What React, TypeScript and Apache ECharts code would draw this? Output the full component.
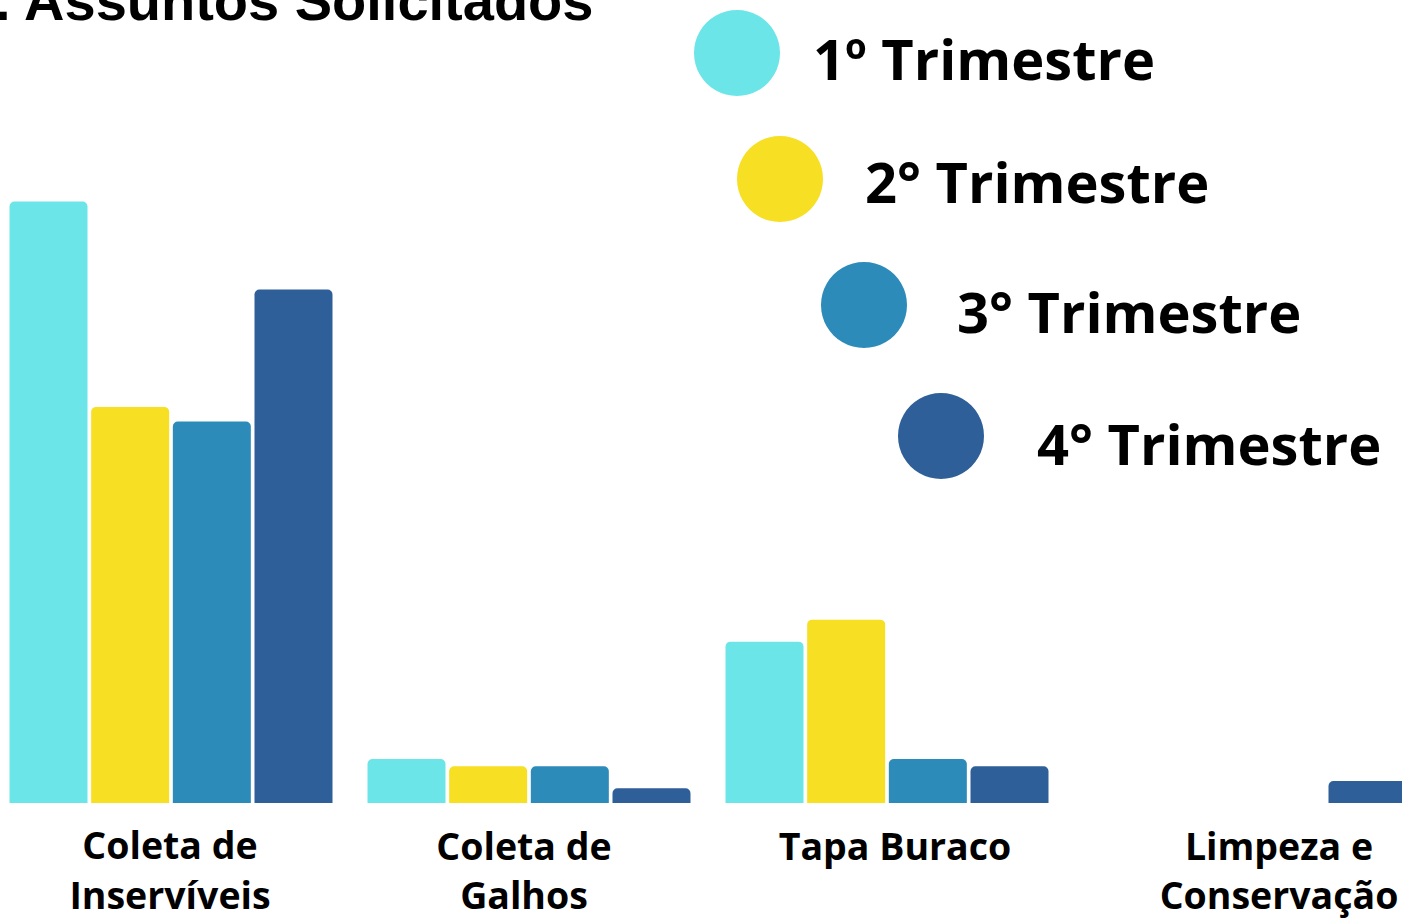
import React, { useEffect, useRef } from "react";
import * as echarts from "echarts";

const categories = ["Coleta de\nInservíveis", "Coleta de\nGalhos", "Tapa Buraco", "Limpeza e\nConservação"];
const seriesNames = ["1º Trimestre", "2° Trimestre", "3° Trimestre", "4° Trimestre"];
const q1 = [82, 6, 22, 0];
const q2 = [54, 5, 25, 0];
const q3 = [52, 5, 6, 0];
const q4 = [70, 2, 5, 3];
const colors = ["#6CE5E8", "#F7DF23", "#2D8BBA", "#2F5F98"];

// chart div is shifted 8px left of the page, so positions are page x + 8
const OFFSET = 8;
const legendPos = [
  { left: 694, top: 10, pad: 28, padTop: 10 },
  { left: 737, top: 136, pad: 37, padTop: 4 },
  { left: 821, top: 262, pad: 45, padTop: 12 },
  { left: 898, top: 393, pad: 48, padTop: 14 },
];
// per-label padding [top, right, bottom, left] to match the reference's label placement
const labelPads = [
  [0, 2, 0, 0],
  [3, 10, 0, 0],
  [3, 0, 0, 16],
  [3, 0, 0, 68],
];

export default function App() {
  const ref = useRef<HTMLDivElement>(null);
  useEffect(() => {
    if (!ref.current) return;
    const chart = echarts.init(ref.current, null, { renderer: "svg" });
    const values = [q1, q2, q3, q4];
    const rich: Record<string, any> = {};
    labelPads.forEach((p, i) => {
      const base = { fontFamily: "Open Sans", fontWeight: "bold", fontSize: 37.5, lineHeight: 50, color: "#000" };
      rich["a" + i] = { ...base, padding: p };
      rich["b" + i] = { ...base, padding: [0, p[1], 0, p[3]] };
    });
    chart.setOption({
      animation: false,
      backgroundColor: "#ffffff",
      textStyle: { fontFamily: "Open Sans" },
      graphic: [
        {
          type: "text",
          left: -5 + OFFSET,
          top: -28,
          style: {
            text: ". Assuntos Solicitados",
            fontFamily: "Liberation Sans",
            fontWeight: "bold",
            fontSize: 56,
            fill: "#000",
          },
        },
      ],
      legend: seriesNames.map((name, i) => ({
        data: [name],
        left: legendPos[i].left + OFFSET,
        top: legendPos[i].top,
        orient: "vertical",
        padding: 0,
        icon: "circle",
        itemWidth: 86,
        itemHeight: 86,
        selectedMode: false,
        formatter: "{t|{name}}",
        textStyle: {
          fontFamily: "Open Sans",
          fontWeight: "bold",
          fontSize: 56,
          color: "#000",
          rich: {
            t: {
              fontFamily: "Open Sans",
              fontWeight: "bold",
              fontSize: 56,
              lineHeight: 66,
              color: "#000",
              padding: [legendPos[i].padTop, 0, 0, legendPos[i].pad],
            },
          },
        },
      })),
      grid: { left: 0, right: 0, top: 69.5, bottom: 113, containLabel: false },
      xAxis: {
        type: "category",
        data: categories,
        axisLine: { show: false },
        axisTick: { show: false },
        axisLabel: {
          interval: 0,
          margin: 16,
          fontFamily: "Open Sans",
          fontWeight: "bold",
          fontSize: 37.5,
          lineHeight: 50,
          color: "#000",
          formatter: (value: string, index: number) =>
            value
              .split("\n")
              .map((line, li) => `{${li === 0 ? "a" : "b"}${index}|${line}}`)
              .join("\n"),
          rich,
        },
      },
      yAxis: { type: "value", min: 0, max: 100, show: false, splitLine: { show: false } },
      series: seriesNames.map((name, i) => ({
        name,
        type: "bar",
        data: values[i],
        barWidth: 78,
        barGap: "4.7%",
        itemStyle: { color: colors[i], borderRadius: [5, 5, 0, 0] },
      })),
    });
    return () => chart.dispose();
  }, []);
  return (
    <div style={{ position: "fixed", left: 0, top: 0, width: 1402, height: 919, overflow: "hidden", background: "#fff" }}>
      <div ref={ref} style={{ position: "absolute", left: -OFFSET, top: 0, width: 1432, height: 919 }} />
    </div>
  );
}
